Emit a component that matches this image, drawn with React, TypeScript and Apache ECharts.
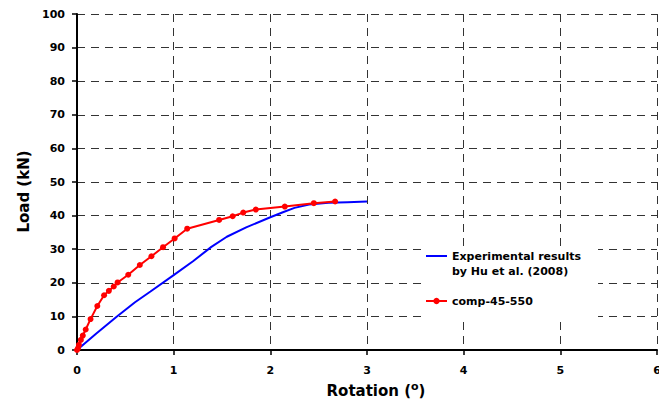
import React, { useEffect, useRef } from "react";
import * as echarts from "echarts";

const xTicks = [0, 1, 2, 3, 4, 5, 6];
const yTicks = [0, 10, 20, 30, 40, 50, 60, 70, 80, 90, 100];

// leading blank line keeps the legend icon level with the first text line
const expName = "\nExperimental results\nby Hu et al. (2008)";
const compName = "comp-45-550";

// Experimental (blue) curve: [rotation, load]
const expRotation = [0, 0.2, 0.41, 0.6, 0.76, 1.0, 1.2, 1.39, 1.55, 1.75, 2.0, 2.13, 2.25, 2.4, 2.6, 2.8, 3.0];
const expLoad = [0, 4.9, 9.9, 14.2, 17.4, 22.3, 26.4, 30.7, 33.7, 36.5, 39.5, 41.0, 42.3, 43.3, 43.8, 44.0, 44.2];

// Model (red) curve
const compRotation = [0, 0.01, 0.02, 0.04, 0.06, 0.09, 0.14, 0.21, 0.28, 0.33, 0.38, 0.42, 0.53, 0.65, 0.77, 0.89, 1.01, 1.14, 1.47, 1.61, 1.72, 1.85, 2.15, 2.45, 2.67];
const compLoad = [0, 0.5, 1.5, 3.0, 4.3, 6.1, 9.2, 13.1, 16.3, 17.6, 18.9, 20.1, 22.4, 25.3, 27.9, 30.6, 33.2, 36.1, 38.7, 39.8, 40.9, 41.8, 42.7, 43.7, 44.2];

const FONT = "DejaVu Sans";

export default function App() {
  const ref = useRef<HTMLDivElement>(null);
  useEffect(() => {
    if (!ref.current) return;
    const chart = echarts.init(ref.current, null, { renderer: "svg" });
    const axisLabel = { fontFamily: FONT, fontWeight: "bold", fontSize: 11, color: "#000" };
    const splitLine = { show: true, lineStyle: { type: [8, 6], color: "#333", width: 1 } };
    chart.setOption({
      animation: false,
      backgroundColor: "#fff",
      grid: { left: 77, right: 2, top: 14, bottom: 58, containLabel: false, outerBoundsMode: "none" },
      xAxis: {
        type: "value",
        min: xTicks[0],
        max: xTicks[xTicks.length - 1],
        interval: 1,
        name: "Rotation ({sup|o})",
        nameLocation: "middle",
        nameGap: 30,
        nameTextStyle: {
          fontFamily: FONT, fontWeight: "bold", fontSize: 15, color: "#000",
          padding: [0, 0, 0, 18],
          rich: { sup: { fontFamily: FONT, fontWeight: "bold", fontSize: 11, color: "#000", padding: [0, 0, 10, 0] } },
        },
        axisLine: { show: true, onZero: false, lineStyle: { color: "#000", width: 2 } },
        axisTick: { show: true, length: 5, lineStyle: { color: "#000", width: 1.5 } },
        axisLabel: { ...axisLabel, margin: 15, alignMaxLabel: "center", alignMinLabel: "center" },
        splitLine,
      },
      yAxis: {
        type: "value",
        min: yTicks[0],
        max: yTicks[yTicks.length - 1],
        interval: 10,
        name: "Load (kN)",
        nameLocation: "middle",
        nameGap: 39,
        nameTextStyle: { fontFamily: FONT, fontWeight: "bold", fontSize: 15, color: "#000", padding: [0, 19, 0, 0] },
        axisLine: { show: true, onZero: false, lineStyle: { color: "#000", width: 2 } },
        axisTick: { show: true, length: 5, lineStyle: { color: "#000", width: 1.5 } },
        axisLabel: { ...axisLabel, margin: 12 },
        splitLine,
      },
      graphic: [
        { type: "rect", z: 5, shape: { x: 423, y: 247, width: 175, height: 74 }, style: { fill: "#fff" } },
      ],
      legend: {
        orient: "vertical",
        left: 425,
        top: 233.5,
        padding: 0,
        z: 10,
        itemWidth: 21,
        itemHeight: 8,
        itemGap: 15,
        textStyle: { fontFamily: FONT, fontWeight: "bold", fontSize: 11, color: "#000", lineHeight: 15 },
        data: [
          { name: expName, itemStyle: { opacity: 0 } },
          { name: compName },
        ],
      },
      series: [
        {
          name: expName,
          type: "line",
          data: expRotation.map((x, i) => [x, expLoad[i]]),
          showSymbol: false,
          symbol: "none",
          lineStyle: { color: "#0000ff", width: 2 },
          itemStyle: { color: "#0000ff" },
          z: 2,
        },
        {
          name: compName,
          type: "line",
          data: compRotation.map((x, i) => [x, compLoad[i]]),
          symbol: "circle",
          symbolSize: 6,
          lineStyle: { color: "#ff0000", width: 2 },
          itemStyle: { color: "#ff0000" },
          z: 3,
        },
      ],
    });
    return () => chart.dispose();
  }, []);
  return <div ref={ref} style={{ position: "fixed", left: 0, top: 0, width: 659, height: 408 }} />;
}
